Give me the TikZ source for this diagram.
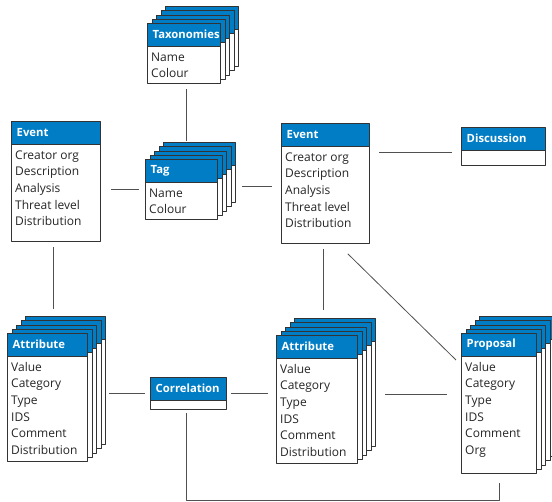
\documentclass[tikz,border=0pt]{standalone}
\usepackage{fontspec}
\setmainfont{Open Sans}
\definecolor{hdrblue}{RGB}{0,125,197}
\definecolor{edgegray}{RGB}{80,80,80}
\tikzset{
	card/.style={draw=black!80, fill=white, line width=.8pt, inner sep=0pt, anchor=north west,
		path picture={\fill[hdrblue] (path picture bounding box.north west) rectangle ([yshift=-23pt]path picture bounding box.north east);
			\draw[black!80, line width=.8pt] ([yshift=-23pt]path picture bounding box.north west) -- ([yshift=-23pt]path picture bounding box.north east);}},
	cardtitle/.style={anchor=west, inner sep=0pt, text=white, font=\fontsize{11.3}{13}\selectfont\bfseries},
	cardbody/.style={anchor=north west, inner sep=0pt, align=left, text=black!85, font=\fontsize{12}{16.7}\selectfont},
	conn/.style={draw=edgegray, line width=.8pt}
}
\newcommand{\card}[7]{%
	\node[card, minimum width=#4pt, minimum height=#5pt] (#1) at (#2,#3) {};
	\node[cardtitle] (#1-t) at ([shift={(5.5,11.5)}]#1.north west) {#6};
	\node[cardbody] (#1-b) at ([shift={(4,26)}]#1.north west) {\rule{0pt}{12pt}#7};
}
\newcommand{\stack}[5]{%
	\foreach \k in {4,3,2,1}
		\node[card, minimum width=#4pt, minimum height=#5pt, xshift=\k*4.5pt, yshift=\k*4.2pt] (#1-\k) at (#2,#3) {};
}
\begin{document}
\begin{tikzpicture}[x=1pt, y=-1pt, line join=round]
	\useasboundingbox (0,0) rectangle (552,502);
	\stack{tax}{147}{23}{73}{60}
	\card{tax}{147}{23}{73}{60}{Taxonomies}{Name\\Colour}
	\card{evl}{11}{121}{89}{120}{Event}{Creator org\\Description\\Analysis\\Threat level\\Distribution}
	\stack{tag}{145}{159}{72}{60}
	\card{tag}{145}{159}{72}{60}{Tag}{Name\\Colour}
	\card{evr}{281}{123}{88}{120}{Event}{Creator org\\Description\\Analysis\\Threat level\\Distribution}
	\card{disc}{461}{127}{84}{38}{Discussion}{}
	\stack{attl}{7}{333}{80}{128}
	\card{attl}{7}{333}{80}{128}{Attribute}{Value\\Category\\Type\\IDS\\Comment\\Distribution}
	\card{corr}{150}{377}{76}{32}{Correlation}{}
	\stack{attr}{276}{335}{81}{128}
	\card{attr}{276}{335}{81}{128}{Attribute}{Value\\Category\\Type\\IDS\\Comment\\Distribution}
	\stack{prop}{461}{333}{75}{140}
	\card{prop}{461}{333}{75}{140}{Proposal}{Value\\Category\\Type\\IDS\\Comment\\Org}

	\draw[conn] ([shift={(2.5,5)}]tax.south) -- ([xshift=2.5pt,yshift=1pt]tax.south |- tag-4.north);
	\draw[conn] ([xshift=-6pt]tag.west) -- ([xshift=10pt]tag.west -| evl.east);
	\draw[conn] ([shift={(-9,3)}]evr.west) -- ([shift={(24,3)}]evr.west -| tag.east);
	\draw[conn] ([shift={(-9,6)}]disc.west) -- ([shift={(9,6)}]disc.west -| evr.east);
	\draw[conn] ([shift={(-2.5,5)}]evl.south) -- ([shift={(-2.5,-7)}]evl.south |- attl-4.north);
	\draw[conn] ([shift={(-2,5)}]evr.south) -- ([shift={(-2,-8)}]evr.south |- attr-4.north);
	\draw[conn] ([shift={(-22,10)}]evr.south east) -- ([shift={(-5,27)}]prop.north west);
	\draw[conn] ([xshift=-5pt]corr.west) -- ([xshift=21pt]corr.west -| attl.east);
	\draw[conn] ([xshift=4pt]corr.east) -- ([xshift=-8pt]corr.east -| attr.west);
	\draw[conn] ([shift={(27,-5)}]attr.east) -- ([shift={(-14,-5)}]attr.east -| prop.west);
	\draw[conn] ([shift={(-2,3)}]corr.south) -- ([xshift=-2pt]corr.south |- 0,500)
		-| ([shift={(0.5,9)}]prop.south);
\end{tikzpicture}
\end{document}
